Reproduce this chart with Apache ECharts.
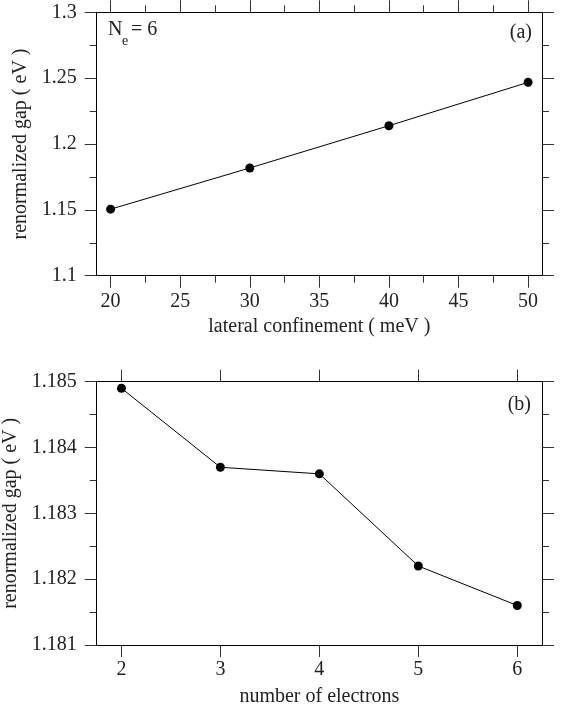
<!DOCTYPE html>
<html>
<head>
<meta charset="utf-8">
<script src="https://cdn.jsdelivr.net/npm/echarts@6/dist/echarts.min.js"></script>
<style>html,body{margin:0;padding:0;background:#fff;}#c{width:563px;height:712px;}</style>
</head>
<body>
<div id="c"></div>
<script>
// ---- data ----
const confinement = [20, 30, 40, 50];
const gapA = [1.1505, 1.1818, 1.2139, 1.2468];
const electrons = [2, 3, 4, 5, 6];
const gapB = [1.1849, 1.1837, 1.1836, 1.1822, 1.1816];
const xMajorA = [20, 25, 30, 35, 40, 45, 50];
const xMinorA = [22.5, 27.5, 32.5, 37.5, 42.5, 47.5];
const xMajorB = [2, 3, 4, 5, 6];

const FONT = 'Liberation Serif';
const FS = 20;
const C = '#000';
const TXT = '#222';

function xAxes(grid, min, max, majors, minors, name, nameGap, labelMargin) {
  const base = {type: 'value', gridIndex: grid, min: min, max: max, splitLine: {show: false}};
  const arr = [];
  arr.push(Object.assign({}, base, {
    position: 'bottom',
    axisLine: {show: true, lineStyle: {color: C, width: 1}},
    axisTick: {show: true, length: 12, customValues: majors, lineStyle: {color: '#333'}},
    axisLabel: {show: true, customValues: majors, margin: labelMargin, color: TXT, fontFamily: FONT, fontSize: FS},
    name: name, nameLocation: 'middle', nameGap: nameGap,
    nameTextStyle: {color: TXT, fontFamily: FONT, fontSize: FS}
  }));
  arr.push(Object.assign({}, base, {
    position: 'top',
    axisLine: {show: true, lineStyle: {color: C, width: 1}},
    axisTick: {show: true, length: 12, customValues: majors, lineStyle: {color: '#333'}},
    axisLabel: {show: false}
  }));
  if (minors) {
    ['bottom', 'top'].forEach(function (p) {
      arr.push(Object.assign({}, base, {
        position: p,
        axisLine: {show: false},
        axisTick: {show: true, length: 7, customValues: minors, lineStyle: {color: '#333'}},
        axisLabel: {show: false}
      }));
    });
  }
  return arr;
}

function yAxes(grid, min, max, interval, fmt) {
  const base = {type: 'value', gridIndex: grid, min: min, max: max, interval: interval, splitLine: {show: false},
    minorTick: {show: true, splitNumber: 2, length: 7, lineStyle: {color: '#333'}}, minorSplitLine: {show: false}};
  return [
    Object.assign({}, base, {
      position: 'left',
      axisLine: {show: true, lineStyle: {color: C, width: 1}},
      axisTick: {show: true, length: 12, lineStyle: {color: '#333'}},
      axisLabel: {show: true, margin: 20, color: TXT, fontFamily: FONT, fontSize: FS, formatter: fmt},
      name: 'renormalized gap ( eV )', nameLocation: 'middle', nameGap: 66,
      nameTextStyle: {color: TXT, fontFamily: FONT, fontSize: FS}
    }),
    Object.assign({}, base, {
      position: 'right',
      axisLine: {show: true, lineStyle: {color: C, width: 1}},
      axisTick: {show: true, length: 12, lineStyle: {color: '#333'}},
      axisLabel: {show: false}
    })
  ];
}

const xA = xAxes(0, 19, 51, xMajorA, xMinorA, 'lateral confinement ( meV )', 41, 16);
const xB = xAxes(1, 1.75, 6.25, xMajorB, null, 'number of electrons', 42, 15);
const yA = yAxes(0, 1.1, 1.3, 0.05, null);
const yB = yAxes(1, 1.181, 1.185, 0.001, function (v) { return v.toFixed(3); });

const chart = echarts.init(document.getElementById('c'), null, {renderer: 'canvas'});
chart.setOption({
  animation: false,
  backgroundColor: '#fff',
  grid: [
    {left: 96.7, right: 21, top: 12.3, height: 263.4, outerBoundsMode: 'none', containLabel: false},
    {left: 96.7, right: 21, top: 381.7, height: 263.3, outerBoundsMode: 'none', containLabel: false}
  ],
  xAxis: xA.concat(xB),
  yAxis: yA.concat(yB),
  series: [
    {type: 'line', xAxisIndex: 0, yAxisIndex: 0,
     data: confinement.map(function (x, i) { return [x, gapA[i]]; }),
     symbol: 'circle', symbolSize: 9, itemStyle: {color: C}, lineStyle: {color: C, width: 1}},
    {type: 'line', xAxisIndex: xA.length, yAxisIndex: 2,
     data: electrons.map(function (x, i) { return [x, gapB[i]]; }),
     symbol: 'circle', symbolSize: 9, itemStyle: {color: C}, lineStyle: {color: C, width: 1}}
  ],
  graphic: [
    {type: 'text', left: 108, top: 20, style: {text: 'N', fontFamily: FONT, fontSize: FS, fill: TXT}},
    {type: 'text', left: 122, top: 34, style: {text: 'e', fontFamily: FONT, fontSize: 14, fill: TXT}},
    {type: 'text', left: 131, top: 20, style: {text: '= 6', fontFamily: FONT, fontSize: FS, fill: TXT}},
    {type: 'text', right: 31, top: 23, style: {text: '(a)', fontFamily: FONT, fontSize: FS, fill: TXT}},
    {type: 'text', right: 32, top: 395, style: {text: '(b)', fontFamily: FONT, fontSize: FS, fill: TXT}}
  ]
});
</script>
</body>
</html>
